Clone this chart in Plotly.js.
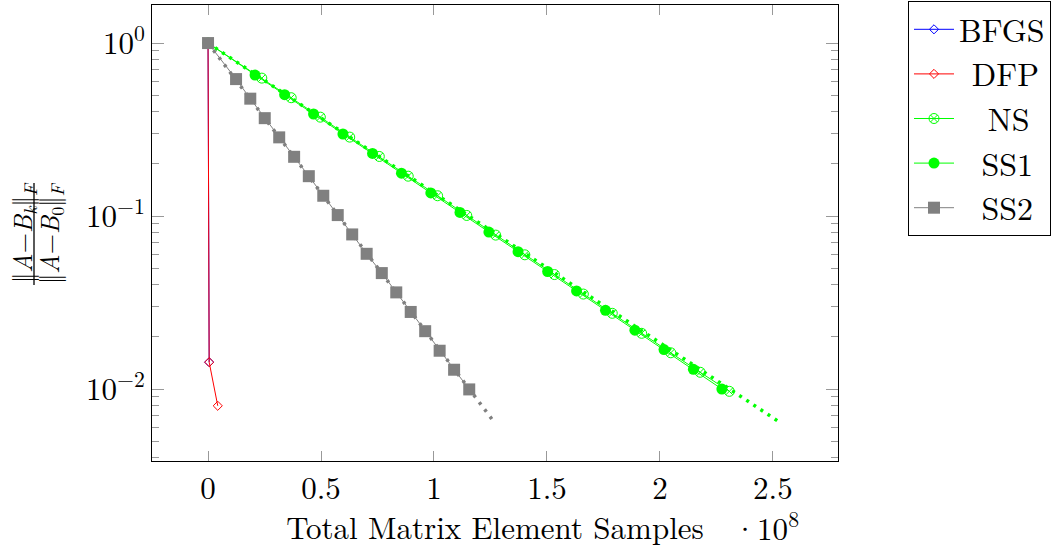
<!DOCTYPE html>
<html>
<head>
<meta charset="utf-8">
<script src="https://cdn.plot.ly/plotly-3.0.1.min.js"></script>
<style>html,body{margin:0;padding:0;background:#fff;}#chart{width:1056px;height:548px;}</style>
</head>
<body>
<div id="chart"></div>
<script>
// x values in units of 1e8 samples
const bfgsX = [0, 0.005];
const bfgsY = [1, 0.0143];
const dfpX = [0, 0.005, 0.043];
const dfpY = [1, 0.0143, 0.0080];
const nsX = [0, 0.238, 0.368, 0.497, 0.627, 0.758, 0.886, 1.016, 1.145, 1.273, 1.402, 1.533, 1.661, 1.789, 1.919, 2.048, 2.178, 2.307];
const nsY = [1, 0.627, 0.483, 0.373, 0.286, 0.221, 0.170, 0.131, 0.1008, 0.0776, 0.0597, 0.0459, 0.0354, 0.0274, 0.0210, 0.0162, 0.0125, 0.0097];
const ss1X = [0, 0.208, 0.339, 0.467, 0.597, 0.728, 0.856, 0.986, 1.115, 1.243, 1.372, 1.503, 1.631, 1.759, 1.889, 2.018, 2.148, 2.274];
const ss1Y = [1, 0.653, 0.503, 0.389, 0.298, 0.230, 0.177, 0.136, 0.105, 0.0808, 0.0622, 0.0478, 0.0369, 0.0285, 0.0219, 0.0169, 0.0130, 0.0100];
const ss2X = [0, 0.124, 0.187, 0.251, 0.315, 0.381, 0.446, 0.510, 0.574, 0.638, 0.702, 0.769, 0.833, 0.897, 0.961, 1.025, 1.089, 1.156];
const ss2Y = [1, 0.619, 0.477, 0.368, 0.285, 0.220, 0.170, 0.131, 0.1013, 0.0783, 0.0605, 0.0468, 0.0362, 0.0279, 0.0216, 0.01665, 0.01293, 0.00995];
const ss1BoundX = [0, 2.532];
const ss1BoundY = [1, 0.0064];
const ss2BoundX = [0, 1.268];
const ss2BoundY = [1, 0.0064];
const xTickVals = [0, 0.5, 1, 1.5, 2, 2.5];
const xTickText = ['0', '0.5', '1', '1.5', '2', '2.5'];
const yTickVals = [1, 0.1, 0.01];
const yTickText = ['10<sup>0</sup>', '10<sup>\u22121</sup>', '10<sup>\u22122</sup>'];
const names = ['BFGS', 'DFP', 'NS', 'SS1', 'SS2'];

const FONT = 'Latin Modern Roman';
const GREEN = '#00ff00', GRAY = '#808080';
const NB = '\u00a0', THIN = '\u2009';

const traces = [
  {x: ss1BoundX, y: ss1BoundY, mode: 'lines', showlegend: false, hoverinfo: 'skip',
   line: {color: GREEN, width: 3.5, dash: '3px,5.5px'}},
  {x: ss2BoundX, y: ss2BoundY, mode: 'lines', showlegend: false, hoverinfo: 'skip',
   line: {color: GRAY, width: 3.5, dash: '3px,6px'}},
  {x: bfgsX, y: bfgsY, name: names[0], mode: 'lines+markers',
   line: {color: '#0000ff', width: 1}, marker: {symbol: 'diamond-open', size: 7, color: '#0000ff', line: {width: 1}}},
  {x: dfpX, y: dfpY, name: THIN + THIN + names[1], mode: 'lines+markers',
   line: {color: '#ff0000', width: 1}, marker: {symbol: 'diamond-open', size: 7, color: '#ff0000', line: {width: 1}}},
  {x: nsX, y: nsY, name: NB + THIN + THIN + names[2], mode: 'lines+markers',
   line: {color: GREEN, width: 1}, marker: {symbol: 'circle-x-open', size: 10, color: GREEN, line: {width: 1}}},
  {x: ss1X, y: ss1Y, name: NB + THIN + names[3], mode: 'lines+markers',
   line: {color: GREEN, width: 1}, marker: {symbol: 'circle', size: 11, color: GREEN}},
  {x: ss2X, y: ss2Y, name: NB + THIN + names[4], mode: 'lines+markers',
   line: {color: GRAY, width: 1}, marker: {symbol: 'square', size: 12, color: GRAY}}
];

const px = v => (v - 152) / 686;
const py = v => (461 - v) / 456;

const layout = {
  width: 1056, height: 548,
  margin: {l: 152, r: 218, t: 5, b: 87},
  paper_bgcolor: '#fff', plot_bgcolor: '#fff',
  font: {family: FONT, size: 30, color: '#000'},
  showlegend: true,
  legend: {
    xref: 'container', yref: 'container', x: 908 / 1056, y: 1 - 1 / 548, xanchor: 'left', yanchor: 'top',
    bordercolor: '#000', borderwidth: 1, bgcolor: '#fff',
    font: {family: FONT, size: 32, color: '#000'},
    traceorder: 'normal', itemwidth: 40
  },
  xaxis: {
    type: 'linear', range: [-0.248, 2.788],
    tickmode: 'array', tickvals: xTickVals, ticktext: xTickText,
    ticks: 'inside', ticklen: 10, tickcolor: '#999', tickwidth: 1,
    showline: true, linecolor: '#000', linewidth: 1, mirror: 'ticks',
    showgrid: false, zeroline: false,
    tickfont: {family: FONT, size: 31},
    title: {text: 'Total Matrix Element Samples', font: {family: FONT, size: 31}, standoff: 8}
  },
  yaxis: {
    type: 'log', range: [-2.416, 0.22],
    tickmode: 'array', tickvals: yTickVals, ticktext: yTickText,
    ticks: 'inside', ticklen: 12, tickcolor: '#999', tickwidth: 1,
    minor: {ticks: 'inside', ticklen: 7, tickcolor: '#999', dtick: 'D1', showgrid: false},
    showline: true, linecolor: '#000', linewidth: 1, mirror: 'ticks',
    showgrid: false, zeroline: false,
    tickfont: {family: FONT, size: 31}
  },
  annotations: [
    {xref: 'paper', yref: 'paper', x: px(766), y: py(526), text: '\u00b710<sup>8</sup>', showarrow: false,
     font: {family: FONT, size: 31}, xanchor: 'center', yanchor: 'middle'},
    {xref: 'paper', yref: 'paper', x: px(22), y: py(233), text: '\u2016<i>A</i>\u2212<i>B<sub>k</sub></i>\u2016<sub><i>F</i></sub>',
     showarrow: false, textangle: -90, font: {family: FONT, size: 26}, xanchor: 'center', yanchor: 'middle'},
    {xref: 'paper', yref: 'paper', x: px(49), y: py(233), text: '\u2016<i>A</i>\u2212<i>B</i><sub>0</sub>\u2016<sub><i>F</i></sub>',
     showarrow: false, textangle: -90, font: {family: FONT, size: 26}, xanchor: 'center', yanchor: 'middle'}
  ],
  shapes: [
    {type: 'line', xref: 'paper', yref: 'paper', x0: px(34), x1: px(34), y0: py(183), y1: py(285),
     line: {color: '#000', width: 1.3}}
  ]
};

Plotly.newPlot('chart', traces, layout, {staticPlot: true, displayModeBar: false});
</script>
</body>
</html>
